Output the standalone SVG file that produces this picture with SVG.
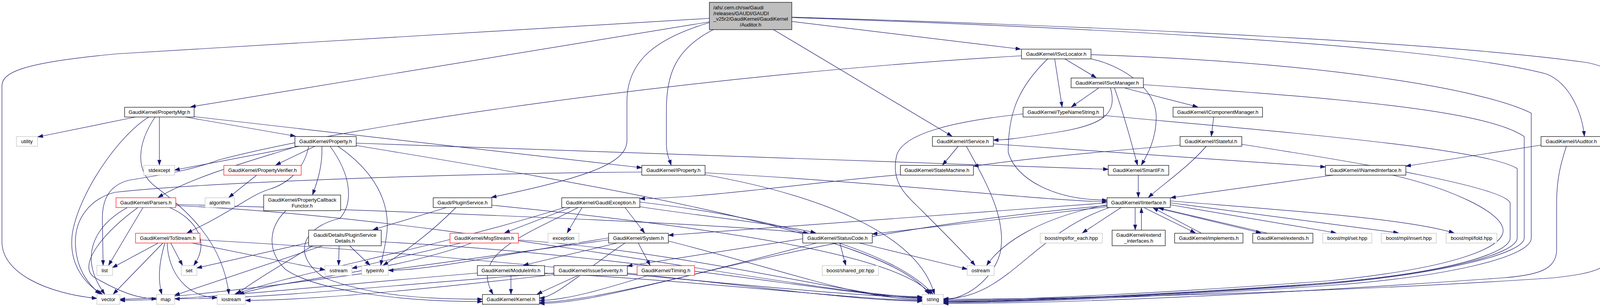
<svg xmlns="http://www.w3.org/2000/svg" width="4305" height="787" viewBox="0 0 4305 787">
<style>
.n rect{fill:#fff;stroke:#000;stroke-width:1.2}
.n.g rect{stroke:#bfbfbf}
.n.r rect{stroke:#ff0000}
.n.root rect{fill:#bfbfbf}
text{font-family:"Liberation Sans",Arial,Helvetica,sans-serif;font-size:13px;text-anchor:middle;fill:#000}
text.l{text-anchor:start}
#edges path{fill:none;stroke:#191970;stroke-width:1.2;marker-end:url(#a)}
</style>
<defs>
<marker id="a" markerUnits="userSpaceOnUse" markerWidth="14" markerHeight="10" refX="13" refY="4.5" orient="auto">
<path d="M0,0L13,4.5L0,9z" fill="#191970" stroke="#191970" stroke-width="1"/>
</marker>
</defs>
<rect x="0" y="0" width="4305" height="787" fill="#fff"/>
<g id="edges">
<path d="M1816,47 L300,138 C60,160 5,185 5,220 L5,620 C5,700 120,752 248,765"/>
<path d="M1816,56 L488,274"/>
<path d="M1826,76 C1730,125 1706,190 1706,280 L1706,370 C1706,395 1714,410 1718,423"/>
<path d="M1816,58 C1690,95 1605,150 1605,260 L1605,360 C1605,420 1500,455 1258,506"/>
<path d="M1980,76 L2437,349"/>
<path d="M2027,55 L2613,126"/>
<path d="M2027,44 C2900,70 3700,110 4060,160 C4115,170 4125,185 4125,205 L4125,640 C4125,690 4080,700 3980,712 C3500,745 2800,767 2415,767"/>
<path d="M2027,45 C2900,75 3700,120 3960,190 C4020,215 4050,290 4056,349"/>
<path d="M347,300 L97,351"/>
<path d="M381,300 C300,350 200,500 185,600 C175,680 220,730 262,754"/>
<path d="M397,300 C350,370 345,440 400,480 C480,540 570,620 586,754"/>
<path d="M408,300 L408,423"/>
<path d="M475,300 L756,349"/>
<path d="M497,299 L1643,430"/>
<path d="M766,375 L447,436"/>
<path d="M758,376 C650,410 500,450 405,506"/>
<path d="M806,375 L706,423"/>
<path d="M790,375 C780,430 740,470 690,485 C640,500 600,540 479,597"/>
<path d="M824,375 C826,420 815,460 800,499"/>
<path d="M845,375 C900,450 905,520 870,560 C780,580 740,650 830,712 C950,760 1100,767 1235,767"/>
<path d="M865,375 C960,440 1000,520 990,600 C985,640 978,660 975,680"/>
<path d="M912,367 L2837,434"/>
<path d="M912,373 C1500,470 2280,600 2378,754"/>
<path d="M657,449 L586,506"/>
<path d="M732,540 C690,580 680,640 730,690 C800,740 1000,773 1235,773"/>
<path d="M1143,532 L955,589"/>
<path d="M1167,532 C1100,600 1030,650 981,680"/>
<path d="M1259,526 C1800,580 2300,650 2383,754"/>
<path d="M868,630 L867,680"/>
<path d="M895,630 L947,680"/>
<path d="M790,622 L504,687"/>
<path d="M826,630 L447,757"/>
<path d="M976,620 C1600,650 2200,764 2361,764"/>
<path d="M800,630 C720,680 650,720 606,754"/>
<path d="M1180,623 L901,688"/>
<path d="M1207,623 C1000,700 700,720 612,755"/>
<path d="M1327,615 C1800,650 2200,765 2361,765"/>
<path d="M1490,532 L1452,597"/>
<path d="M1600,532 L1650,597"/>
<path d="M1638,530 C1800,555 2000,575 2088,597"/>
<path d="M1460,532 L1292,597"/>
<path d="M1480,532 C1350,600 1200,650 1262,754"/>
<path d="M1638,518 C2000,560 2300,650 2388,754"/>
<path d="M1445,532 C1100,640 750,700 600,755"/>
<path d="M1634,623 L1664,680"/>
<path d="M1580,623 L1340,680"/>
<path d="M1600,623 C1500,690 1420,764 1381,764"/>
<path d="M1711,618 C2000,690 2200,768 2361,768"/>
<path d="M1558,615 C1000,690 500,767 307,767"/>
<path d="M1558,610 C1300,650 1100,693 994,693"/>
<path d="M1308,706 L1308,754"/>
<path d="M1394,700 C1800,720 2200,770 2361,770"/>
<path d="M1222,700 C800,735 500,770 307,770"/>
<path d="M1480,706 L1375,754"/>
<path d="M1606,700 C1900,730 2200,772 2361,772"/>
<path d="M1418,700 C1000,730 700,766 447,766"/>
<path d="M1418,704 C1100,740 800,770 628,770"/>
<path d="M1660,706 C1550,740 1450,770 1381,770"/>
<path d="M2055,612 L1606,682"/>
<path d="M2150,623 L2165,680"/>
<path d="M2200,623 L2476,690"/>
<path d="M2090,623 C1800,700 1500,775 1381,775"/>
<path d="M2834,527 C2000,600 1600,778 1381,778"/>
<path d="M2834,520 L1711,603"/>
<path d="M2834,530 L2233,600"/>
<path d="M2834,525 C2650,560 2560,630 2526,680"/>
<path d="M2840,532 C2640,600 2580,766 2415,766"/>
<path d="M2870,532 L2771,597"/>
<path d="M2906,533 L2906,589"/>
<path d="M2930,533 L3060,597"/>
<path d="M2960,533 L3228,597"/>
<path d="M2996,525 L3420,597"/>
<path d="M2996,520 L3580,597"/>
<path d="M2996,515 C3300,540 3600,560 3722,597"/>
<path d="M2922,590 L2922,533"/>
<path d="M3076,598 L2952,533"/>
<path d="M3245,598 L2966,533"/>
<path d="M2914,449 L2914,506"/>
<path d="M3413,449 L2997,507"/>
<path d="M3565,449 C3700,480 3845,540 3848,590 C3850,640 3700,690 3400,720 C3000,750 2600,770 2415,770"/>
<path d="M3088,375 C3040,430 2980,470 2940,506"/>
<path d="M3021,372 C2800,390 2600,410 2492,426"/>
<path d="M3179,370 C3500,420 3850,480 3866,520 L3866,610 C3866,650 3700,700 3400,725 C3000,755 2600,772 2415,772"/>
<path d="M3107,300 L3101,349"/>
<path d="M2812,226 L2743,274"/>
<path d="M2843,226 C2860,290 2830,320 2700,340 C2620,352 2580,359 2543,359"/>
<path d="M2853,226 C2880,300 2900,380 2912,423"/>
<path d="M2880,226 L3066,274"/>
<path d="M2927,217 C3400,250 3800,280 3902,350 L3902,610 C3902,650 3700,700 3400,728 C3000,758 2600,774 2415,774"/>
<path d="M2615,143 C1800,190 900,320 560,410 C480,440 400,450 330,462 C280,475 262,510 262,560 L264,680"/>
<path d="M2700,151 L2719,274"/>
<path d="M2726,151 L2806,199"/>
<path d="M2793,151 C2880,170 2960,230 2960,300 C2960,360 2935,400 2922,423"/>
<path d="M2682,151 C2600,230 2581,300 2581,390 C2600,460 2700,513 2834,513"/>
<path d="M2793,140 C3400,160 3800,230 3920,290 L3920,610 C3920,660 3700,710 3400,732 C3000,760 2600,776 2415,776"/>
<path d="M2825,296 C3300,340 3800,380 3884,432 L3884,610 C3884,650 3700,700 3400,726 C3000,757 2600,773 2415,773"/>
<path d="M2619,292 C2450,310 2310,340 2295,400 C2280,470 2320,500 2360,540 C2420,600 2470,650 2496,680"/>
<path d="M2453,375 L2413,423"/>
<path d="M2543,369 L3393,428"/>
<path d="M2474,375 C2520,460 2580,560 2560,650 C2540,720 2470,768 2415,768"/>
<path d="M3945,372 L3599,426"/>
<path d="M4010,375 C3995,420 3985,460 3985,520 L3985,640 C3985,690 3940,705 3850,712 C3400,745 2800,778 2415,778"/>
<path d="M2305,448 C2100,465 1800,509 1638,509"/>
<path d="M1805,443 C2300,470 2700,517 2834,517"/>
<path d="M1805,448 C2100,500 2350,600 2392,754"/>
<path d="M1643,441 C1100,445 500,470 294,493 C230,510 193,560 193,620 C193,700 240,740 256,754"/>
<path d="M326,532 C240,580 200,660 268,754"/>
<path d="M353,532 C260,600 200,680 240,710 C300,745 350,766 401,766"/>
<path d="M366,532 L278,680"/>
<path d="M434,532 C500,560 540,620 496,680"/>
<path d="M450,527 C1200,560 2100,761 2361,761"/>
<path d="M450,524 C1000,540 1800,570 2070,598"/>
<path d="M405,623 L288,686"/>
<path d="M417,623 L290,754"/>
<path d="M422,623 C405,680 405,720 414,754"/>
<path d="M428,623 C430,700 480,763 556,763"/>
<path d="M437,623 L467,680"/>
<path d="M491,623 L832,692"/>
<path d="M512,615 C1200,650 2100,762 2361,762"/>
</g>
<g id="n-root" class="n root"><rect x="1816" y="6" width="211" height="70"/><text class="l" x="1826" y="24">/afs/.cern.ch/sw/Gaudi</text><text class="l" x="1826" y="38.5">/releases/GAUDI/GAUDI</text><text class="l" x="1826" y="53">_v25r2/GaudiKernel/GaudiKernel</text><text x="1921.5" y="67.5">/Auditor.h</text></g>
<g id="n-isvclocator" class="n"><rect x="2615" y="126" width="178" height="25"/><text x="2704" y="143">GaudiKernel/ISvcLocator.h</text></g>
<g id="n-isvcmanager" class="n"><rect x="2742" y="200" width="185" height="25"/><text x="2834.5" y="217">GaudiKernel/ISvcManager.h</text></g>
<g id="n-propertymgr" class="n"><rect x="319" y="275" width="178" height="25"/><text x="408" y="292">GaudiKernel/PropertyMgr.h</text></g>
<g id="n-typenamestring" class="n"><rect x="2619" y="275" width="206" height="25"/><text x="2722" y="292">GaudiKernel/TypeNameString.h</text></g>
<g id="n-icomponentmanager" class="n"><rect x="3003" y="275" width="229" height="25"/><text x="3117.5" y="292">GaudiKernel/IComponentManager.h</text></g>
<g id="n-utility" class="n g"><rect x="42" y="350" width="54" height="25"/><text x="69" y="367">utility</text></g>
<g id="n-property" class="n"><rect x="755" y="350" width="157" height="25"/><text x="833.5" y="367">GaudiKernel/Property.h</text></g>
<g id="n-iservice" class="n"><rect x="2387" y="350" width="156" height="25"/><text x="2465" y="367">GaudiKernel/IService.h</text></g>
<g id="n-istateful" class="n"><rect x="3021" y="350" width="158" height="25"/><text x="3100" y="367">GaudiKernel/IStateful.h</text></g>
<g id="n-iauditor" class="n"><rect x="3945" y="350" width="155" height="25"/><text x="4022.5" y="367">GaudiKernel/IAuditor.h</text></g>
<g id="n-stdexcept" class="n g"><rect x="368" y="424" width="79" height="25"/><text x="407.5" y="441">stdexcept</text></g>
<g id="n-propertyverifier" class="n r"><rect x="573" y="424" width="198" height="25"/><text x="672" y="441">GaudiKernel/PropertyVerifier.h</text></g>
<g id="n-iproperty" class="n"><rect x="1643" y="424" width="162" height="25"/><text x="1724" y="441">GaudiKernel/IProperty.h</text></g>
<g id="n-statemachine" class="n"><rect x="2305" y="424" width="187" height="25"/><text x="2398.5" y="441">GaudiKernel/StateMachine.h</text></g>
<g id="n-smartif" class="n"><rect x="2837" y="424" width="155" height="25"/><text x="2914.5" y="441">GaudiKernel/SmartIF.h</text></g>
<g id="n-inamedinterface" class="n"><rect x="3393" y="424" width="206" height="25"/><text x="3496" y="441">GaudiKernel/INamedInterface.h</text></g>
<g id="n-parsers" class="n r"><rect x="297" y="507" width="153" height="25"/><text x="373.5" y="524">GaudiKernel/Parsers.h</text></g>
<g id="n-algorithm" class="n g"><rect x="525" y="507" width="75" height="25"/><text x="562.5" y="524">algorithm</text></g>
<g id="n-propertycallbackfunctor" class="n"><rect x="675" y="500" width="197" height="40"/><text x="773.5" y="516.5">GaudiKernel/PropertyCallback</text><text x="773.5" y="531.5">Functor.h</text></g>
<g id="n-pluginservice" class="n"><rect x="1109" y="507" width="150" height="25"/><text x="1184" y="524">Gaudi/PluginService.h</text></g>
<g id="n-gaudiexception" class="n"><rect x="1438" y="507" width="200" height="25"/><text x="1538" y="524">GaudiKernel/GaudiException.h</text></g>
<g id="n-iinterface" class="n"><rect x="2834" y="507" width="162" height="25"/><text x="2915" y="524">GaudiKernel/IInterface.h</text></g>
<g id="n-tostream" class="n r"><rect x="347" y="598" width="165" height="25"/><text x="429.5" y="615">GaudiKernel/ToStream.h</text></g>
<g id="n-pluginservicedetails" class="n"><rect x="790" y="590" width="186" height="40"/><text x="883" y="606.5">Gaudi/Details/PluginService</text><text x="883" y="621.5">Details.h</text></g>
<g id="n-msgstream" class="n r"><rect x="1152" y="598" width="175" height="25"/><text x="1239.5" y="615">GaudiKernel/MsgStream.h</text></g>
<g id="n-exception" class="n g"><rect x="1403" y="598" width="79" height="25"/><text x="1442.5" y="615">exception</text></g>
<g id="n-system" class="n"><rect x="1558" y="598" width="153" height="25"/><text x="1634.5" y="615">GaudiKernel/System.h</text></g>
<g id="n-statuscode" class="n"><rect x="2055" y="598" width="178" height="25"/><text x="2144" y="615">GaudiKernel/StatusCode.h</text></g>
<g id="n-foreach" class="n g"><rect x="2663" y="598" width="159" height="25"/><text x="2742.5" y="615">boost/mpl/for_each.hpp</text></g>
<g id="n-extendinterfaces" class="n"><rect x="2847" y="590" width="136" height="40"/><text x="2915" y="606.5">GaudiKernel/extend</text><text x="2915" y="621.5">_interfaces.h</text></g>
<g id="n-implements" class="n"><rect x="3007" y="598" width="175" height="25"/><text x="3094.5" y="615">GaudiKernel/implements.h</text></g>
<g id="n-extends" class="n"><rect x="3207" y="598" width="154" height="25"/><text x="3284" y="615">GaudiKernel/extends.h</text></g>
<g id="n-mplset" class="n g"><rect x="3386" y="598" width="126" height="25"/><text x="3449" y="615">boost/mpl/set.hpp</text></g>
<g id="n-mplinsert" class="n g"><rect x="3536" y="598" width="141" height="25"/><text x="3606.5" y="615">boost/mpl/insert.hpp</text></g>
<g id="n-mplfold" class="n g"><rect x="3702" y="598" width="130" height="25"/><text x="3767" y="615">boost/mpl/fold.hpp</text></g>
<g id="n-list" class="n g"><rect x="248" y="681" width="40" height="25"/><text x="268" y="698">list</text></g>
<g id="n-set" class="n g"><rect x="464" y="681" width="40" height="25"/><text x="484" y="698">set</text></g>
<g id="n-sstream" class="n g"><rect x="832" y="681" width="69" height="25"/><text x="866.5" y="698">sstream</text></g>
<g id="n-typeinfo" class="n g"><rect x="926" y="681" width="68" height="25"/><text x="960" y="698">typeinfo</text></g>
<g id="n-moduleinfo" class="n"><rect x="1222" y="681" width="172" height="25"/><text x="1308" y="698">GaudiKernel/ModuleInfo.h</text></g>
<g id="n-issueseverity" class="n"><rect x="1418" y="681" width="188" height="25"/><text x="1512" y="698">GaudiKernel/IssueSeverity.h</text></g>
<g id="n-timing" class="n r"><rect x="1631" y="681" width="147" height="25"/><text x="1704.5" y="698">GaudiKernel/Timing.h</text></g>
<g id="n-sharedptr" class="n g"><rect x="2105" y="681" width="144" height="25"/><text x="2177" y="698">boost/shared_ptr.hpp</text></g>
<g id="n-ostream" class="n g"><rect x="2476" y="681" width="69" height="25"/><text x="2510.5" y="698">ostream</text></g>
<g id="n-vector" class="n g"><rect x="248" y="755" width="59" height="25"/><text x="277.5" y="772">vector</text></g>
<g id="n-map" class="n g"><rect x="401" y="755" width="46" height="25"/><text x="424" y="772">map</text></g>
<g id="n-iostream" class="n g"><rect x="556" y="755" width="72" height="25"/><text x="592" y="772">iostream</text></g>
<g id="n-kernel" class="n"><rect x="1235" y="755" width="146" height="25"/><text x="1308" y="772">GaudiKernel/Kernel.h</text></g>
<g id="n-string" class="n g"><rect x="2361" y="755" width="54" height="25"/><text x="2388" y="772">string</text></g>
</svg>
